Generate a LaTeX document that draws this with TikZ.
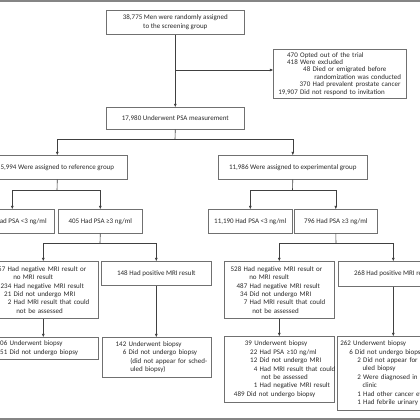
\documentclass[tikz,border=0pt]{standalone}
\usepackage{fontspec}
\setmainfont{Carlito}
\usetikzlibrary{arrows.meta}
\definecolor{boxc}{HTML}{707070}
\definecolor{linec}{HTML}{404040}
\definecolor{txtc}{HTML}{2A2A2A}
\definecolor{rulec}{HTML}{858585}
\newcommand\Lq[3]{\makebox[0pt][l]{\makebox[#1][r]{#2}\ #3}}
\newcommand\Lc[2]{\makebox[0pt][l]{\hspace*{#1}#2}}
\begin{document}
\begin{tikzpicture}[x=1pt,y=-1pt,
  bx/.style={draw=boxc, line width=0.6pt, anchor=north west, inner ysep=0pt,
    font=\fontsize{7}{8.4}\selectfont, text=txtc},
  cbox/.style={bx, inner xsep=0pt, align=center},
  lbox/.style={bx, align=left},
  ln/.style={draw=linec, line width=0.6pt},
  arr/.style={ln, -{Triangle[length=3.2pt,width=2.6pt]}}
]
\useasboundingbox (0,0) rectangle (420,420);
\fill[white] (0,0) rectangle (420,420);
\clip (0,0) rectangle (420,420);
\draw[rulec, line width=2pt] (0,1) -- (420,1);
\draw[rulec, line width=2pt] (0,419) -- (420,419);

% top
\node[cbox, minimum width=138pt, minimum height=24pt] (b1) at (106,10)
  {38,775 Men were randomly assigned\\to the screening group};
\node[lbox, inner xsep=5pt, text width=123pt, minimum height=49pt,
      font=\fontsize{7}{7.4}\selectfont] (ex) at (273,49)
  {\Lq{19.5pt}{470}{Opted out of the trial}\\
   \Lq{19.5pt}{418}{Were excluded}\\
   \Lq{32pt}{48}{Died or emigrated before}\\
   \Lc{36pt}{randomization was conducted}\\
   \Lq{32pt}{370}{Had prevalent prostate cancer}\\
   \Lq{19.5pt}{19,907}{Did not respond to invitation}};
\node[cbox, minimum width=138pt, minimum height=22pt] (p) at (106,107)
  {17,980 Underwent PSA measurement};

% groups
\node[cbox, minimum width=140pt, minimum height=24pt] (g1) at (-13,155)
  {5,994 Were assigned to reference group};
\node[cbox, minimum width=149pt, minimum height=24pt] (g2) at (218,155)
  {11,986 Were assigned to experimental group};

% PSA level
\node[cbox, minimum width=84pt, minimum height=24pt] (rlo) at (-30,209)
  {5,589 Had PSA <3 ng/ml};
\node[cbox, minimum width=84pt, minimum height=24pt] (rhi) at (58,209)
  {405 Had PSA ≥3 ng/ml};
\node[cbox, minimum width=84pt, minimum height=24pt] (elo) at (208,209)
  {11,190 Had PSA <3 ng/ml};
\node[cbox, minimum width=83pt, minimum height=24pt] (ehi) at (294,209)
  {796 Had PSA ≥3 ng/ml};

% MRI level
\node[lbox, inner xsep=6pt, text width=98pt, minimum height=57pt] (rneg) at (-12,261)
  {\Lq{11pt}{257}{Had negative MRI result or}\\
   \Lc{19pt}{no MRI result}\\
   \Lq{17pt}{234}{Had negative MRI result}\\
   \Lq{17pt}{21}{Did not undergo MRI}\\
   \Lq{17pt}{2}{Had MRI result that could}\\
   \Lc{22pt}{not be assessed}};
\node[cbox, minimum width=110pt, minimum height=24pt] (rpos) at (101,261)
  {148 Had positive MRI result};
\node[lbox, inner xsep=6pt, text width=98pt, minimum height=57pt] (eneg) at (224,261)
  {\Lq{11pt}{528}{Had negative MRI result or}\\
   \Lc{19pt}{no MRI result}\\
   \Lq{17pt}{487}{Had negative MRI result}\\
   \Lq{17pt}{34}{Did not undergo MRI}\\
   \Lq{17pt}{7}{Had MRI result that could}\\
   \Lc{22pt}{not be assessed}};
\node[cbox, minimum width=110pt, minimum height=25pt] (epos) at (338,261)
  {268 Had positive MRI result};

% biopsy level
\node[lbox, inner xsep=8pt, text width=94pt, minimum height=22pt] (rbx) at (-12,337)
  {\Lq{11pt}{206}{Underwent biopsy}\\
   \Lq{11pt}{51}{Did not undergo biopsy}};
\node[lbox, inner xsep=13pt, text width=83pt, minimum height=40pt] (rpbx) at (102,337)
  {\Lq{11pt}{142}{Underwent biopsy}\\
   \Lq{11pt}{6}{Did not undergo biopsy}\\
   \Lc{15pt}{(did not appear for sched-}\\
   \Lc{15pt}{uled biopsy)}};
\node[lbox, inner xsep=6pt, text width=98pt, minimum height=66pt] (ebx) at (224,336)
  {\Lq{21.7pt}{39}{Underwent biopsy}\\
   \Lq{27pt}{22}{Had PSA ≥10 ng/ml}\\
   \Lq{27pt}{12}{Did not undergo MRI}\\
   \Lq{27pt}{4}{Had MRI result that could}\\
   \Lc{31pt}{not be assessed}\\
   \Lq{27pt}{1}{Had negative MRI result}\\
   \Lq{14.3pt}{489}{Did not undergo biopsy}};
\node[lbox, inner xsep=3pt, text width=105pt, minimum height=74pt] (epbx) at (337,336)
  {\Lq{10.6pt}{262}{Underwent biopsy}\\
   \Lq{12.6pt}{6}{Did not undergo biopsy}\\
   \Lq{20.6pt}{2}{Did not appear for sched-}\\
   \Lc{22.2pt}{uled biopsy}\\
   \Lq{20.6pt}{2}{Were diagnosed in another}\\
   \Lc{22.2pt}{clinic}\\
   \Lq{20.6pt}{1}{Had other cancer evaluation}\\
   \Lq{20.6pt}{1}{Had febrile urinary infection}};

% connectors
\coordinate (j1) at (175,70);
\coordinate (j2) at (175,139);
\coordinate (j3) at (57,190);
\coordinate (j4) at (292.5,190);
\coordinate (j5) at (100,243);
\coordinate (j6) at (336,243);
\draw[arr] (b1.south) -- (p.north);
\draw[arr] (j1) -- (j1 -| ex.west);
\draw[ln] (p.south) -- (j2);
\draw[arr] (j2) -| (g1.north);
\draw[arr] (j2) -| (g2.north);
\draw[ln] (g1.south) -- (j3);
\draw[arr] (j3) -| (rlo.north);
\draw[arr] (j3) -| (rhi.north);
\draw[ln] (g2.south) -- (j4);
\draw[arr] (j4) -| (elo.north);
\draw[arr] (j4) -| (ehi.north);
\draw[ln] (rhi.south) -- (j5);
\draw[arr] (j5) -| (rneg.north);
\draw[arr] (j5) -| (rpos.north);
\draw[ln] (ehi.south) -- (j6);
\draw[arr] (j6) -| (eneg.north);
\draw[arr] (j6) -| (epos.north);
\draw[arr] (rneg.south) -- (rneg.south |- rbx.north);
\draw[arr] (rpos.south) -- (rpos.south |- rpbx.north);
\draw[arr] (eneg.south) -- (eneg.south |- ebx.north);
\draw[arr] (epos.south) -- (epos.south |- epbx.north);
\end{tikzpicture}
\end{document}
